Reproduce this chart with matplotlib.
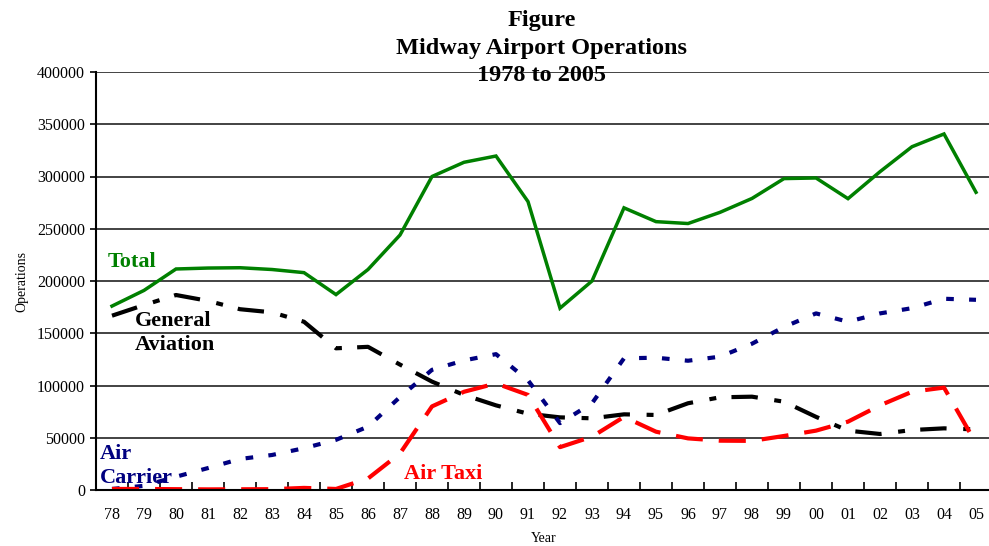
import matplotlib
matplotlib.use("Agg")
import matplotlib.pyplot as plt
import numpy as np

# Year labels (two-digit) and operations counts
years = ["78", "79", "80", "81", "82", "83", "84", "85", "86", "87", "88", "89", "90", "91",
         "92", "93", "94", "95", "96", "97", "98", "99", "00", "01", "02", "03", "04", "05"]

total = [176000, 191000, 211500, 212400, 212700, 211000, 208000, 187000, 211000, 244000,
         300000, 313600, 319600, 276000, 174000, 200000, 270000, 256800, 255000, 265700,
         279000, 298000, 298600, 278800, 304600, 328500, 340700, 284900]

general_aviation = [166800, 177000, 186600, 181000, 173000, 170000, 161000, 135600, 137000, 120000,
                    103700, 91000, 81000, 73000, 69500, 68600, 72400, 71800, 83000, 88700,
                    89300, 84500, 70000, 56800, 53600, 57400, 59000, 58000]

air_carrier = [1000, 4000, 12700, 21000, 29700, 33500, 40000, 48000, 60600, 89000,
               115000, 124000, 130000, 105000, 64000, 83000, 126000, 126600, 123700, 127600,
               140000, 156000, 169000, 161000, 169000, 174000, 183000, 182000]

air_taxi = [1000, 1000, 800, 600, 700, 800, 2000, 1000, 11000, 35000,
            80000, 94000, 102000, 91000, 41000, 51000, 70000, 55800, 49400, 47200,
            47000, 51700, 56800, 65400, 81000, 94000, 98000, 44700]

plt.rcParams["font.family"] = ["Liberation Serif", "DejaVu Serif"]
plt.rcParams["lines.scale_dashes"] = False

fig = plt.figure(figsize=(9.89, 5.46), dpi=100)
ax = fig.add_axes([96 / 989, 1 - 490 / 546, 896 / 989, 418 / 546])

x = np.arange(len(years))

ax.plot(x, total, color="#008000", lw=2.5, solid_joinstyle="miter")
ax.plot(x, general_aviation, color="black", lw=3.0, dashes=(19, 12, 5, 11))
ax.plot(x, air_carrier, color="#000080", lw=3.0, dashes=(5.5, 11))
ax.plot(x, air_taxi, color="#FF0000", lw=3.0, dashes=(19.5, 11.5))

# series labels placed on the plot
lab = dict(fontsize=16, fontweight="bold", ha="left", va="center", linespacing=1.25)
ax.text(-0.12, 218000, "Total", color="#008000", **lab)
ax.text(0.72, 150000, "General\nAviation", color="black", **lab)
ax.text(-0.38, 23000, "Air\nCarrier", color="#000080", **lab)
ax.text(9.12, 15000, "Air Taxi", color="#FF0000", **lab)

ax.set_xlim(-0.5, len(years) - 0.5)
ax.set_ylim(0, 400000)
ax.set_yticks(np.arange(0, 400001, 50000))
ax.yaxis.grid(True, color="#222222", lw=1.2)
ax.set_axisbelow(True)

ax.set_xticks(x)
ax.set_xticklabels(years)
ax.tick_params(axis="x", which="major", length=0, pad=12, labelsize=11.5)
ax.set_xticks(np.arange(0.5, len(years) - 0.5), minor=True)
ax.tick_params(axis="x", which="minor", direction="in", length=6, width=1.2)
ax.tick_params(axis="y", length=4, width=1.2, labelsize=11.5, pad=4)

for s in ["top", "right"]:
    ax.spines[s].set_visible(False)
ax.spines["left"].set_linewidth(1.5)
ax.spines["bottom"].set_linewidth(1.5)

ax.set_ylabel("Operations", fontsize=10, labelpad=6)
ax.set_xlabel("Year", fontsize=10, labelpad=7)

fig.text(0.548, 0.981, "Figure\nMidway Airport Operations\n1978 to 2005",
         ha="center", va="top", fontsize=17.5, fontweight="bold", linespacing=1.4)

fig.savefig("out.png", dpi=100)
